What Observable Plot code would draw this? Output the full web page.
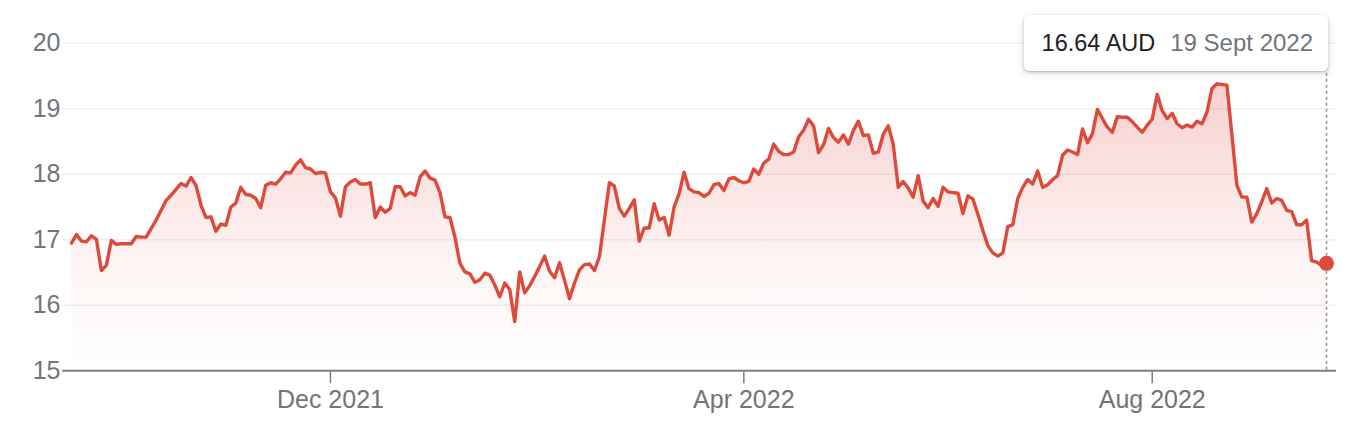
<!DOCTYPE html>
<html><head><meta charset="utf-8">
<script src="https://cdn.jsdelivr.net/npm/d3@7"></script>
<script src="https://cdn.jsdelivr.net/npm/@observablehq/plot@0.6"></script>
<style>
html,body{margin:0;padding:0;background:#fff;}
#wrap{position:relative;width:1356px;height:432px;font-family:Arial,"Liberation Sans",sans-serif;}
#tip{position:absolute;top:15px;height:56px;background:#fff;border-radius:5px;
  box-shadow:0 1px 2px rgba(60,64,67,0.30),0 2px 6px 1px rgba(60,64,67,0.15);
  display:flex;align-items:center;padding:0 15px 0 18px;font-size:23.5px;white-space:nowrap;box-sizing:border-box;}
#tip .v{color:#202124;}
#tip .d{color:#70757a;margin-left:15px;font-size:24px;}
</style></head><body>
<div id="wrap"></div>
<script>
// Daily closing prices (trading-day index 0..252)
const price = [
16.95,17.08,16.98,16.97,17.06,17.01,16.53,16.61,16.99,16.93,
16.94,16.94,16.94,17.05,17.04,17.04,17.17,17.30,17.45,17.60,
17.68,17.77,17.86,17.82,17.95,17.83,17.53,17.34,17.35,17.13,
17.24,17.22,17.50,17.56,17.80,17.69,17.68,17.63,17.49,17.83,
17.87,17.85,17.93,18.03,18.02,18.14,18.22,18.10,18.08,18.01,
18.03,18.02,17.73,17.64,17.36,17.81,17.88,17.92,17.85,17.85,
17.87,17.34,17.50,17.42,17.48,17.81,17.81,17.67,17.72,17.68,
17.96,18.05,17.94,17.91,17.72,17.35,17.34,17.04,16.64,16.51,
16.48,16.35,16.39,16.49,16.46,16.31,16.13,16.34,16.24,15.75,
16.51,16.19,16.30,16.44,16.59,16.75,16.52,16.42,16.65,16.38,
16.10,16.34,16.54,16.62,16.63,16.53,16.74,17.30,17.87,17.82,
17.48,17.36,17.48,17.61,16.98,17.18,17.18,17.55,17.30,17.34,
17.07,17.50,17.70,18.03,17.78,17.73,17.72,17.66,17.71,17.84,
17.86,17.75,17.93,17.95,17.90,17.87,17.89,18.08,18.00,18.17,
18.23,18.46,18.35,18.30,18.30,18.34,18.57,18.67,18.84,18.74,
18.33,18.45,18.70,18.56,18.49,18.60,18.46,18.67,18.81,18.59,
18.60,18.32,18.34,18.61,18.74,18.46,17.80,17.89,17.79,17.65,
17.98,17.59,17.49,17.63,17.51,17.80,17.73,17.72,17.71,17.40,
17.67,17.62,17.39,17.14,16.91,16.80,16.75,16.80,17.20,17.23,
17.63,17.80,17.92,17.85,18.05,17.80,17.84,17.92,17.98,18.29,
18.37,18.34,18.30,18.69,18.48,18.62,18.99,18.85,18.72,18.64,
18.88,18.87,18.87,18.80,18.72,18.64,18.75,18.84,19.22,18.97,
18.85,18.93,18.77,18.71,18.75,18.72,18.81,18.77,18.95,19.31,
19.38,19.37,19.36,18.60,17.83,17.65,17.65,17.27,17.40,17.58,
17.78,17.56,17.63,17.60,17.45,17.43,17.23,17.23,17.30,16.68,
16.66,16.61,16.64
];
const yTicks = [15, 16, 17, 18, 19, 20];
const xTickDays = [52, 135, 217];            // first trading day of the month
const xTickLabels = ["Dec 2021", "Apr 2022", "Aug 2022"];
const currency = "AUD";
const lastDateLabel = "19 Sept 2022";

const data = price.map((p, i) => ({day: i, price: p}));
const last = data[data.length - 1];
const red = "#db4a3b";
const grey = "#70757a";

const plot = Plot.plot({
  width: 1356, height: 432,
  marginLeft: 62, marginRight: 20, marginTop: 42.7, marginBottom: 61.7,
  style: {fontFamily: "Arial, 'Liberation Sans', sans-serif", color: grey, background: "transparent", overflow: "visible"},
  x: {domain: [-1.8, 254], axis: null},
  y: {domain: [15, 20], axis: null},
  marks: [
    Plot.ruleY(yTicks.filter(d => d > 15), {stroke: "#efefef", strokeWidth: 1.5}),
    Plot.areaY(data, {x: "day", y1: 15, y2: "price", fill: "url(#areaGrad)"}),
    Plot.ruleY([15], {stroke: "#7b7f84", strokeWidth: 2}),
    Plot.axisY({ticks: yTicks, tickFormat: d => String(d), label: null, tickSize: 0, tickPadding: 2, fontSize: 25, fill: grey}),
    Plot.axisX({ticks: xTickDays, tickFormat: d => xTickLabels[xTickDays.indexOf(d)], label: null,
                tickSize: 13, tickPadding: 6, fontSize: 25, stroke: "#7b7f84", strokeWidth: 1.5, fill: grey}),
    Plot.ruleX([last], {x: "day", stroke: "#8c9095", strokeWidth: 1.5, strokeDasharray: "3,3"}),
    Plot.lineY(data, {x: "day", y: "price", stroke: red, strokeWidth: 3.4, strokeLinejoin: "round"}),
    Plot.dot([last], {x: "day", y: "price", r: 7.5, fill: red, stroke: "none"})
  ]
});

d3.select(plot).insert("defs", ":first-child").html(
  `<linearGradient id="areaGrad" x1="0" y1="0" x2="0" y2="1">
     <stop offset="0" stop-color="#db4437" stop-opacity="0.25"/>
     <stop offset="0.6" stop-color="#db4437" stop-opacity="0.06"/>
     <stop offset="1" stop-color="#db4437" stop-opacity="0.0"/>
   </linearGradient>`);

const wrap = document.getElementById("wrap");
wrap.appendChild(plot);

const px = plot.scale("x").apply(last.day);
const tip = document.createElement("div");
tip.id = "tip";
tip.innerHTML = `<span class="v">${last.price.toFixed(2)} ${currency}</span><span class="d">${lastDateLabel}</span>`;
tip.style.right = (1356 - (px + 2)) + "px";
wrap.appendChild(tip);
</script>
</body></html>
